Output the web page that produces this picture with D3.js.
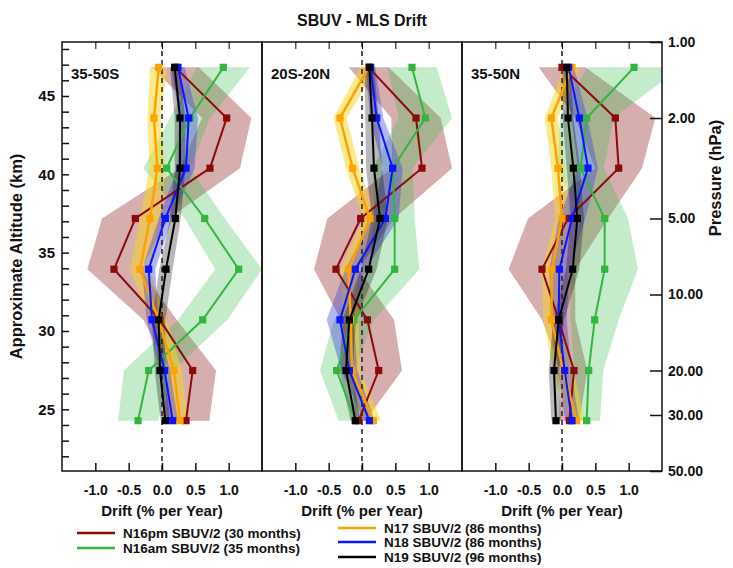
<!DOCTYPE html>
<html>
<head>
<meta charset="utf-8">
<script src="https://cdn.jsdelivr.net/npm/d3@7"></script>
<style>
	body { margin: 0; background: #fff; }
	text { font-family: "Liberation Sans", Arial, sans-serif; font-weight: bold; fill: #111; }
</style>
</head>
<body>
<div id="chart"></div>
<script>
// SBUV layer pressures (hPa) where the drifts are given
const levels		= [1.26, 2.0, 3.16, 5.0, 7.94, 12.6, 20.0, 31.6];
const pressureTicks	= [1, 2, 5, 10, 20, 30, 50];
const altTicks		= [25, 30, 35, 40, 45];
const driftTicks	= [-1.0, -0.5, 0.0, 0.5, 1.0];
const regions		= ["35-50S", "20S-20N", "35-50N"];
const seriesKeys	= ["n16pm", "n16am", "n17", "n18", "n19"];
const seriesLabels	= ["N16pm SBUV/2 (30 months)", "N16am SBUV/2 (35 months)", "N17 SBUV/2 (86 months)", "N18 SBUV/2 (86 months)", "N19 SBUV/2 (96 months)"];

// 35-50S
const sh_n16pm		= [0.20, 0.97, 0.72, -0.40, -0.72, -0.03, 0.46, 0.36];
const sh_n16pm_err	= [0.35, 0.37, 0.45, 0.50, 0.40, 0.25, 0.35, 0.35];
const sh_n16am		= [0.92, 0.42, 0.07, 0.64, 1.15, 0.61, -0.20, -0.36];
const sh_n16am_err	= [0.40, 0.30, 0.35, 0.30, 0.35, 0.37, 0.37, 0.30];
const sh_n17		= [-0.05, -0.12, -0.07, -0.18, -0.33, -0.05, 0.18, 0.27];
const sh_n17_err	= [0.13, 0.10, 0.12, 0.15, 0.15, 0.12, 0.12, 0.12];
const sh_n18		= [0.24, 0.40, 0.36, 0.05, -0.20, -0.15, 0.04, 0.16];
const sh_n18_err	= [0.10, 0.14, 0.13, 0.10, 0.10, 0.08, 0.08, 0.08];
const sh_n19		= [0.19, 0.27, 0.27, 0.20, 0.06, -0.05, -0.03, 0.05];
const sh_n19_err	= [0.07, 0.08, 0.08, 0.08, 0.10, 0.10, 0.08, 0.07];

// 20S-20N
const eq_n16pm		= [0.10, 0.81, 0.90, -0.02, -0.39, 0.08, 0.25, -0.05];
const eq_n16pm_err	= [0.30, 0.37, 0.45, 0.50, 0.33, 0.40, 0.35, 0.10];
const eq_n16am		= [0.75, 0.95, 0.46, 0.49, 0.49, -0.12, -0.38, -0.10];
const eq_n16am_err	= [0.37, 0.40, 0.30, 0.30, 0.37, 0.30, 0.25, 0.25];
const eq_n17		= [0.10, -0.33, -0.14, 0.12, -0.20, -0.17, -0.15, 0.17];
const eq_n17_err	= [0.12, 0.10, 0.10, 0.10, 0.12, 0.12, 0.12, 0.12];
const eq_n18		= [0.13, 0.22, 0.46, 0.35, -0.10, -0.33, -0.19, 0.11];
const eq_n18_err	= [0.07, 0.10, 0.15, 0.20, 0.15, 0.20, 0.12, 0.08];
const eq_n19		= [0.11, 0.15, 0.18, 0.27, 0.10, -0.19, -0.24, -0.10];
const eq_n19_err	= [0.07, 0.10, 0.12, 0.12, 0.12, 0.10, 0.10, 0.07];

// 35-50N
const nh_n16pm		= [0.00, 0.80, 0.85, 0.09, -0.30, -0.05, 0.18, 0.11];
const nh_n16pm_err	= [0.35, 0.60, 0.35, 0.60, 0.50, 0.25, 0.20, 0.15];
const nh_n16am		= [1.08, 0.37, 0.28, 0.64, 0.64, 0.49, 0.40, 0.37];
const nh_n16am_err	= [0.70, 0.40, 0.35, 0.35, 0.50, 0.36, 0.22, 0.20];
const nh_n17		= [0.15, -0.16, -0.06, 0.00, -0.15, -0.16, 0.02, 0.22];
const nh_n17_err	= [0.12, 0.10, 0.10, 0.10, 0.15, 0.12, 0.15, 0.12];
const nh_n18		= [0.10, 0.26, 0.39, 0.15, -0.04, -0.05, 0.04, 0.15];
const nh_n18_err	= [0.08, 0.12, 0.15, 0.20, 0.15, 0.12, 0.10, 0.10];
const nh_n19		= [0.07, 0.09, 0.17, 0.23, 0.16, -0.05, -0.12, -0.09];
const nh_n19_err	= [0.06, 0.08, 0.10, 0.10, 0.10, 0.08, 0.08, 0.07];

const panelData = [
	{ n16pm: [sh_n16pm, sh_n16pm_err], n16am: [sh_n16am, sh_n16am_err], n17: [sh_n17, sh_n17_err], n18: [sh_n18, sh_n18_err], n19: [sh_n19, sh_n19_err] },
	{ n16pm: [eq_n16pm, eq_n16pm_err], n16am: [eq_n16am, eq_n16am_err], n17: [eq_n17, eq_n17_err], n18: [eq_n18, eq_n18_err], n19: [eq_n19, eq_n19_err] },
	{ n16pm: [nh_n16pm, nh_n16pm_err], n16am: [nh_n16am, nh_n16am_err], n17: [nh_n17, nh_n17_err], n18: [nh_n18, nh_n18_err], n19: [nh_n19, nh_n19_err] }
];

let lineColor	= { n16pm: "#8b0a0a", n16am: "#33b640", n17: "#ffa200", n18: "#0a14ff", n19: "#000000" };
let bandColor	= { n16pm: "rgba(140,30,30,0.36)", n16am: "rgba(60,190,80,0.30)", n17: "rgba(250,215,30,0.5)", n18: "rgba(60,60,220,0.38)", n19: "rgba(0,0,0,0.28)" };

let margin		= { top: 42, left: 62 };
let panelW		= 200;
let plotH		= 429;
let scaleH		= 7, p0 = 1013.25;	// pressure-altitude scale height (km)

let yP			= d3.scaleLog().domain([50, 1]).range([margin.top + plotH, margin.top]);
let yAlt		= d3.scaleLinear().domain([scaleH * Math.log(p0 / 50), scaleH * Math.log(p0 / 1)]).range([margin.top + plotH, margin.top]);
let x			= d3.scaleLinear().domain([-1.5, 1.5]).range([0, panelW]);

let svg = d3.select("#chart").append("svg")
	.attr("width", 733)
	.attr("height", 568);

svg.append("text")
	.attr("x", margin.left + 1.5 * panelW)
	.attr("y", 26)
	.attr("text-anchor", "middle")
	.style("font-size", "16px")
	.text("SBUV - MLS Drift");

regions.forEach((region, i) => {
	let g = svg.append("g").attr("transform", "translate(" + (margin.left + i * panelW) + ",0)");

	g.append("clipPath").attr("id", "clip" + i)
		.append("rect").attr("x", 0).attr("y", margin.top).attr("width", panelW).attr("height", plotH);

	let plot = g.append("g").attr("clip-path", "url(#clip" + i + ")");
	let d = panelData[i];

	// bands first, then the lines on top
	seriesKeys.forEach((k) => {
		let area = d3.area()
			.y((o, j) => yP(levels[j]))
			.x0((o, j) => x(d[k][0][j] - d[k][1][j]))
			.x1((o, j) => x(d[k][0][j] + d[k][1][j]));
		plot.append("path")
			.attr("d", area(levels))
			.attr("fill", bandColor[k]);
	});

	plot.append("line")
		.attr("x1", x(0)).attr("x2", x(0))
		.attr("y1", margin.top).attr("y2", margin.top + plotH)
		.attr("stroke", "#222")
		.attr("stroke-width", 1.5)
		.attr("stroke-dasharray", "5,4");

	seriesKeys.forEach((k) => {
		let line = d3.line()
			.x((o) => x(o))
			.y((o, j) => yP(levels[j]));
		plot.append("path")
			.attr("d", line(d[k][0]))
			.attr("fill", "none")
			.attr("stroke", lineColor[k])
			.attr("stroke-width", k == "n17" ? 2.5 : 2);
		plot.append("g").selectAll("path")
			.data(d[k][0]).enter().append("path")
			.attr("d", d3.symbol().type(d3.symbolSquare).size(52))
			.attr("transform", (o, j) => "translate(" + x(o) + "," + yP(levels[j]) + ")")
			.attr("fill", lineColor[k]);
	});

	g.append("rect")
		.attr("x", 0).attr("y", margin.top)
		.attr("width", panelW).attr("height", plotH)
		.attr("fill", "none")
		.attr("stroke", "#111")
		.attr("stroke-width", 1.5);

	g.append("g")
		.attr("transform", "translate(0," + margin.top + ")")
		.call(d3.axisTop(x).tickValues(driftTicks).tickSize(-7).tickFormat(""))
		.call((a) => a.select(".domain").remove());

	let bottom = g.append("g")
		.attr("transform", "translate(0," + (margin.top + plotH) + ")")
		.call(d3.axisBottom(x).tickValues(driftTicks).tickSize(-8).tickPadding(14).tickFormat((o) => o.toFixed(1)));
	bottom.select(".domain").remove();
	bottom.selectAll("line").attr("stroke", "#111").attr("stroke-width", 1.5);
	bottom.selectAll("text").style("font-size", "14px").style("font-family", null);

	g.append("text")
		.attr("x", panelW / 2)
		.attr("y", 516)
		.attr("text-anchor", "middle")
		.style("font-size", "15px")
		.text("Drift (% per Year)");

	g.append("text")
		.attr("x", 9)
		.attr("y", 79)
		.style("font-size", "15px")
		.text(region);
});

// left altitude axis
let left = svg.append("g")
	.attr("transform", "translate(" + margin.left + ",0)")
	.call(d3.axisLeft(yAlt).tickValues(d3.range(22, 49)).tickSize(-7).tickPadding(7)
		.tickFormat((o) => (altTicks.includes(o) ? o : "")));
left.select(".domain").remove();
left.selectAll("line").attr("stroke", "#111").attr("stroke-width", 1.5);
left.selectAll("text").style("font-size", "15px").style("font-family", null);

// right pressure axis
let right = svg.append("g")
	.attr("transform", "translate(" + (margin.left + 3 * panelW) + ",0)")
	.call(d3.axisRight(yP).tickValues(pressureTicks).tickSize(-12).tickPadding(6)
		.tickFormat((o) => o.toFixed(2)));
right.select(".domain").remove();
right.selectAll("line").attr("stroke", "#111").attr("stroke-width", 1.5);
right.selectAll("text").style("font-size", "14px").style("font-family", null);

svg.append("text")
	.attr("transform", "translate(22," + (margin.top + plotH / 2) + ") rotate(-90)")
	.attr("text-anchor", "middle")
	.style("font-size", "16.5px")
	.text("Approximate Altitude (km)");

svg.append("text")
	.attr("transform", "translate(721,178) rotate(-90)")
	.attr("text-anchor", "middle")
	.style("font-size", "16.5px")
	.text("Pressure (hPa)");

// legend: two columns
let legendPos = [[77, 533], [77, 548], [338, 528], [338, 542], [338, 557]];
let legend = svg.append("g").selectAll("g").data(seriesKeys).enter().append("g")
	.attr("transform", (o, i) => "translate(" + legendPos[i][0] + "," + legendPos[i][1] + ")");
legend.append("line")
	.attr("x1", 0).attr("x2", 38)
	.attr("stroke", (o) => lineColor[o])
	.attr("stroke-width", 2.5);
legend.append("text")
	.attr("x", 46)
	.attr("dy", "0.35em")
	.style("font-size", "13.5px")
	.style("font-weight", "600")
	.text((o, i) => seriesLabels[i]);
</script>
</body>
</html>
